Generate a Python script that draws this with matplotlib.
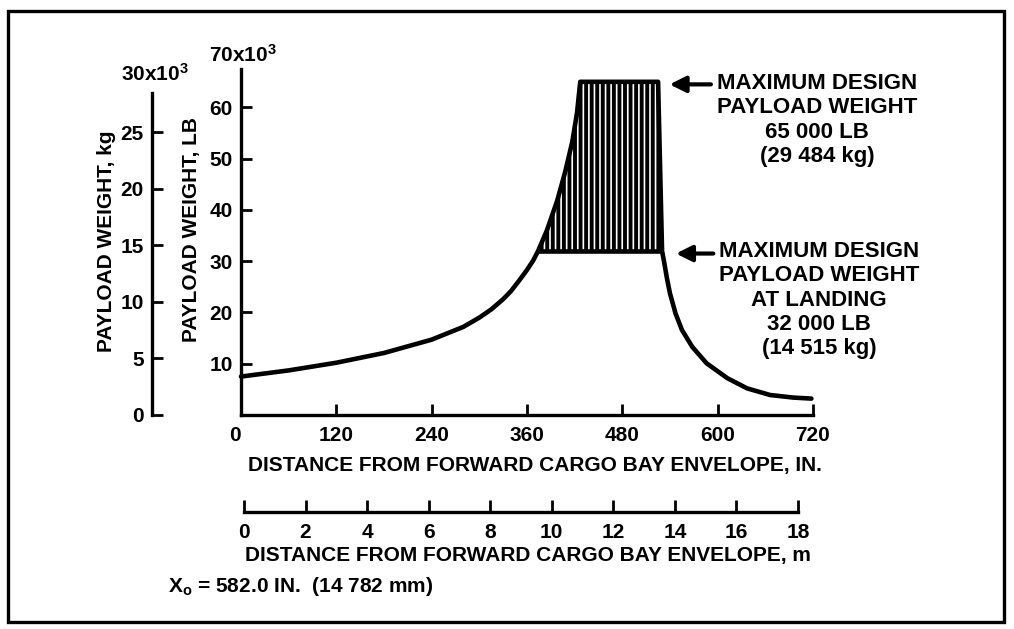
import matplotlib.pyplot as plt
from matplotlib.patches import Rectangle

plt.rcParams['font.family'] = ['Liberation Sans', 'DejaVu Sans']
plt.rcParams['font.weight'] = 'bold'
plt.rcParams['mathtext.fontset'] = 'custom'
plt.rcParams['mathtext.rm'] = 'Liberation Sans:bold'
plt.rcParams['mathtext.it'] = 'Liberation Sans:bold'
plt.rcParams['mathtext.bf'] = 'Liberation Sans:bold'
plt.rcParams['hatch.linewidth'] = 2.8

# allowable payload weight (thousands of lb) vs. c.g. distance (in.)
x_left = [0, 60, 120, 180, 240, 280, 300, 315, 330, 340, 350, 360, 368, 374,
          385, 398, 408, 417, 423, 427]
w_left = [7.5, 8.7, 10.2, 12.1, 14.7, 17.2, 19.0, 20.6, 22.6, 24.2, 26.2, 28.3, 30.2, 32.0,
          36.0, 41.8, 47.4, 53.3, 59.0, 65.0]
x_right = [525, 530, 533, 536, 540, 547, 555, 568, 586, 612, 637, 666, 695, 718]
w_right = [65.0, 32.0, 29.5, 26.8, 23.7, 19.8, 16.6, 13.3, 10.1, 7.2, 5.2, 3.9, 3.4, 3.2]

max_design = 65.0      # 65 000 lb
max_landing = 32.0     # 32 000 lb

in_ticks = [0, 120, 240, 360, 480, 600, 720]
lb_ticks = [10, 20, 30, 40, 50, 60]
kg_ticks = [0, 5, 10, 15, 20, 25]
m_ticks = [0, 2, 4, 6, 8, 10, 12, 14, 16, 18]
LB_PER_KG = 2.2046

W, H = 1014, 629


def box(x0, y0, x1, y1):
    # pixel box (top-left origin) -> figure fraction rect
    return [x0 / W, 1 - y1 / H, (x1 - x0) / W, (y1 - y0) / H]


def px(x, y):
    return x / W, 1 - y / H


fig = plt.figure(figsize=(W / 100, H / 100), dpi=100)
FS = 15

ax = fig.add_axes(box(241, 69, 813, 415))
ax.set_xlim(0, 720)
ax.set_ylim(0, 67.5)
for s in ['top', 'right']:
    ax.spines[s].set_visible(False)
for s in ['left', 'bottom']:
    ax.spines[s].set_linewidth(2.4)
ax.set_xticks(in_ticks)
ax.set_xticklabels([str(t) for t in in_ticks])
ax.get_xticklabels()[0].set_ha('right')
ax.set_yticks(lb_ticks)
ax.set_yticklabels([str(t) for t in lb_ticks])
ax.tick_params(direction='in', length=8, width=2, labelsize=FS, pad=8)
ax.tick_params(axis='y', pad=6)

# payload curve
xs = x_left + x_right
ws = w_left + w_right
ax.plot(xs, ws, color='k', lw=3.3, solid_capstyle='round', solid_joinstyle='round', clip_on=False)

# landing limit line and hatched band between the two limits
i32 = x_left.index(374)
ax.hlines(max_landing, x_left[i32], x_right[1], color='k', lw=3.3)
poly_x = x_left[i32:] + x_right[:2]
poly_y = w_left[i32:] + w_right[:2]
ax.fill(poly_x, poly_y, facecolor='none', edgecolor='k', lw=0, hatch='|||')

# metric weight scale
sec = ax.secondary_yaxis(-89 / 572, functions=(lambda v: v / LB_PER_KG, lambda v: v * LB_PER_KG))
sec.set_yticks(kg_ticks)
sec.set_yticklabels([str(t) for t in kg_ticks])
sec.spines['left'].set_linewidth(2.4)
sec.spines['left'].set_bounds(0, 28.5)
sec.tick_params(direction='in', length=8, width=2, labelsize=FS, pad=6)

# metric distance scale
axm = fig.add_axes(box(244, 490, 798, 512))
axm.set_xlim(0, 18)
axm.set_ylim(0, 1)
for s in ['top', 'right', 'left']:
    axm.spines[s].set_visible(False)
axm.spines['bottom'].set_linewidth(2.4)
axm.set_yticks([])
axm.set_xticks(m_ticks)
axm.set_xticklabels([str(t) for t in m_ticks])
axm.tick_params(direction='in', length=9, width=2, labelsize=FS, pad=8)
axm.patch.set_visible(False)

# limit call-outs
ax.annotate('', xy=(536, max_design - 0.5), xytext=(595, max_design - 0.5),
            arrowprops=dict(arrowstyle='-|>', lw=3, color='k', mutation_scale=24))
ax.annotate('', xy=(544, max_landing - 0.5), xytext=(598, max_landing - 0.5),
            arrowprops=dict(arrowstyle='-|>', lw=3, color='k', mutation_scale=24))

fig.text(*px(817, 120), 'MAXIMUM DESIGN\nPAYLOAD WEIGHT\n65 000 LB\n(29 484 kg)',
         ha='center', va='center', multialignment='center', fontsize=16, linespacing=1.2)
fig.text(*px(819, 300), 'MAXIMUM DESIGN\nPAYLOAD WEIGHT\nAT LANDING\n32 000 LB\n(14 515 kg)',
         ha='center', va='center', multialignment='center', fontsize=16, linespacing=1.2)

fig.text(*px(243, 55), r'70x10$^3$', ha='center', va='center', fontsize=FS)
fig.text(*px(155, 74), r'30x10$^3$', ha='center', va='center', fontsize=FS)
fig.text(*px(106, 241), 'PAYLOAD WEIGHT, kg', rotation=90, ha='center', va='center', fontsize=FS)
fig.text(*px(192, 230), 'PAYLOAD WEIGHT, LB', rotation=90, ha='center', va='center', fontsize=FS)
fig.text(*px(535, 466), 'DISTANCE FROM FORWARD CARGO BAY ENVELOPE, IN.', ha='center', va='center', fontsize=FS)
fig.text(*px(528, 556), 'DISTANCE FROM FORWARD CARGO BAY ENVELOPE, m', ha='center', va='center', fontsize=FS)
fig.text(*px(168, 587), r'X$_\mathrm{o}$ = 582.0 IN.  (14 782 mm)', ha='left', va='center', fontsize=FS)

# frame around the whole figure
fig.patches.append(Rectangle((8 / W, 1 - 622 / H), 996 / W, 611 / H, transform=fig.transFigure,
                             fill=False, edgecolor='k', lw=2.4))

fig.savefig('out.png', dpi=100)
